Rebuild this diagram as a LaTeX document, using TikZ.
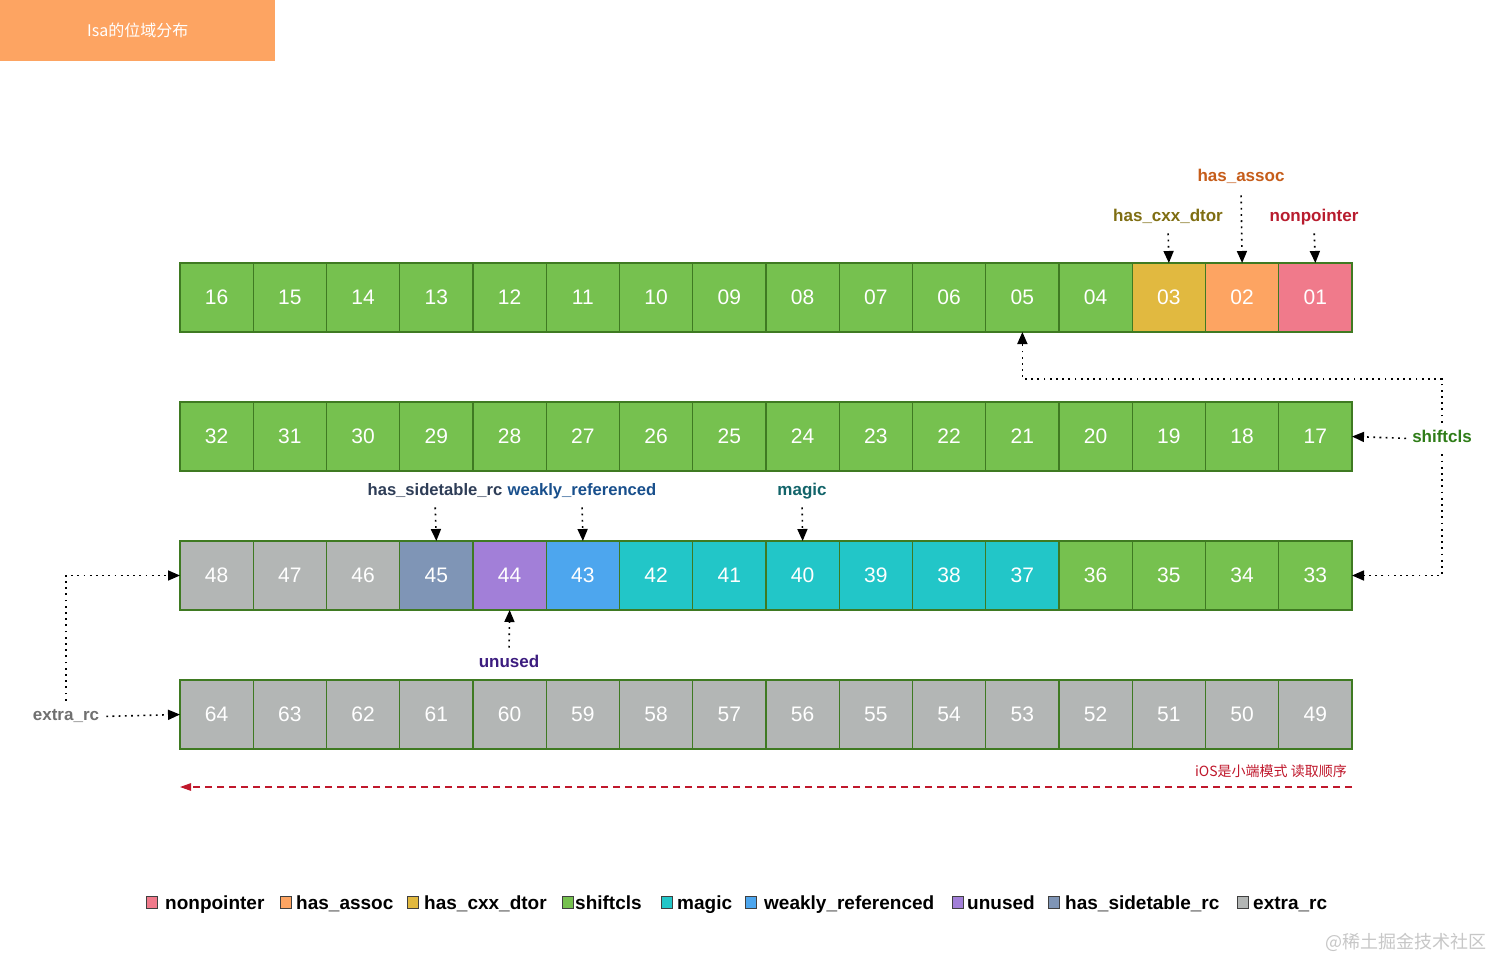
\documentclass[tikz,border=0pt]{standalone}
\usepackage{fontspec}
\setmainfont{Liberation Sans}
\newfontfamily\cjk{Noto Sans CJK SC}
\usetikzlibrary{arrows.meta}
\definecolor{cgreen}{HTML}{76C14F}
\definecolor{cborder}{HTML}{3F7A22}
\definecolor{cpink}{HTML}{F07A8B}
\definecolor{corange}{HTML}{FDA462}
\definecolor{cyellow}{HTML}{E1B940}
\definecolor{ccyan}{HTML}{22C6C8}
\definecolor{cblue}{HTML}{4DA6EE}
\definecolor{cpurple}{HTML}{A27FD8}
\definecolor{cbgray}{HTML}{7F95B6}
\definecolor{cgray}{HTML}{B3B6B5}
\definecolor{tassoc}{HTML}{C65D1A}
\definecolor{tcxx}{HTML}{7F6E12}
\definecolor{tnonp}{HTML}{B81C2E}
\definecolor{tshift}{HTML}{2F7D18}
\definecolor{tside}{HTML}{2E3D57}
\definecolor{tweak}{HTML}{184F8C}
\definecolor{tmagic}{HTML}{12646A}
\definecolor{tunused}{HTML}{3C1C7F}
\definecolor{textra}{HTML}{707070}
\definecolor{tred}{HTML}{C0182C}
\tikzset{
  cell/.style={draw=cborder, line width=1.3pt, minimum width=73.25pt, minimum height=69pt,
    inner sep=0pt, outer sep=0pt, text=white, font=\fontsize{21}{24}\selectfont},
  lbl/.style={font=\fontsize{17}{20}\selectfont\bfseries, inner sep=2pt, text height=12pt, text depth=3.5pt},
  dotarrow/.style={draw=black, line width=1.6pt, dash pattern=on 1.8pt off 4.4pt,
    -{Triangle[length=12pt,width=10pt]}, shorten <=6pt},
  legsq/.style={draw=black!75, line width=1pt, minimum width=11.5pt, minimum height=12pt, inner sep=0pt},
  legtx/.style={anchor=base west, inner sep=0pt, font=\fontsize{19}{22}\selectfont\bfseries}
}
\begin{document}
\begin{tikzpicture}[x=1pt,y=-1pt]
\useasboundingbox (0,0) rectangle (1512,979);
\fill[white] (0,0) rectangle (1512,979);
% title
\node[fill=corange, minimum width=275pt, minimum height=61pt, inner sep=0pt, anchor=north west,
  text=white, font=\cjk\fontsize{16}{18}\selectfont] (title) at (0,0) {Isa的位域分布};
% cells
\foreach \n in {1,...,64}{
  \pgfmathtruncatemacro\rowno{(\n-1)/16}
  \pgfmathtruncatemacro\colno{16*(\rowno+1)-\n}
  \pgfmathsetmacro\cx{180+73.25*(\colno+0.5)}
  \pgfmathsetmacro\cy{297.5+139*\rowno}
  \def\fc{cgreen}
  \ifnum\n=1 \def\fc{cpink}\fi
  \ifnum\n=2 \def\fc{corange}\fi
  \ifnum\n=3 \def\fc{cyellow}\fi
  \ifnum\n>36 \ifnum\n<43 \def\fc{ccyan}\fi\fi
  \ifnum\n=43 \def\fc{cblue}\fi
  \ifnum\n=44 \def\fc{cpurple}\fi
  \ifnum\n=45 \def\fc{cbgray}\fi
  \ifnum\n>45 \def\fc{cgray}\fi
  \node[cell, fill=\fc] (c\n) at (\cx,\cy) {\ifnum\n<10 0\fi\n};
}
% labels
\node[lbl, text=tassoc] (la2) at (1241,177.5) {has\_assoc};
\node[lbl, text=tcxx] (la3) at (1168,217.5) {has\_cxx\_dtor};
\node[lbl, text=tnonp] (la1) at (1314,217.5) {nonpointer};
\node[lbl, text=tshift] (lsh) at (1442,438.5) {shiftcls};
\node[lbl, text=tside, font=\fontsize{16.6}{20}\selectfont\bfseries] (lhs) at (435,491.5) {has\_sidetable\_rc};
\node[lbl, text=tweak, font=\fontsize{16.6}{20}\selectfont\bfseries] (lwr) at (582,491.5) {weakly\_referenced};
\node[lbl, text=tmagic] (lmg) at (802,491.5) {magic};
\node[lbl, text=tunused] (lun) at (509,663.5) {unused};
\node[lbl, text=textra] (lex) at (66,716.5) {extra\_rc};
% arrows
\draw[dotarrow, shorten <=8pt] (la2.south) -- (c2.north);
\draw[dotarrow] (la3.south) -- (c3.north);
\draw[dotarrow] (la1.south) -- (c1.north);
\draw[dotarrow] (lhs.south) -- (c45.north);
\draw[dotarrow] (lwr.south) -- (c43.north);
\draw[dotarrow] (lmg.south) -- (c40.north);
\draw[dotarrow] (lun.north) -- (c44.south);
\draw[dotarrow, shorten <=4pt] (lsh.west) -- (c17.east);
\coordinate (shtop) at (1442,379);
\draw[dotarrow] (lsh.north) -- (shtop) -| (c5.south);
\draw[dotarrow] (lsh.south) |- (c33.east);
\draw[dotarrow, shorten <=5pt] (lex.east) -- (c64.west);
\draw[dotarrow] (lex.north) |- (c48.west);
% reading order
\coordinate (rdstart) at (1352,787);
\coordinate (rdend) at (180,787);
\draw[draw=tred, line width=1.2pt, dash pattern=on 7pt off 5pt,
  -{Triangle[length=11pt,width=7.5pt]}] (rdstart) -- (rdend);
\node[anchor=east, inner sep=0pt, text=tred, font=\cjk\fontsize{14}{16}\selectfont] (rdtxt) at (1347,771) {iOS是小端模式 读取顺序};
% legend
\foreach \name/\sx/\tx/\col [count=\k] in {nonpointer/152/165/cpink, has\_assoc/286/296/corange,
  has\_cxx\_dtor/413/424/cyellow, shiftcls/568/575/cgreen, magic/667/677/ccyan,
  weakly\_referenced/751/764/cblue, unused/958/967/cpurple, has\_sidetable\_rc/1054/1065/cbgray,
  extra\_rc/1243/1253/cgray}{
  \node[legsq, fill=\col] (lg\k) at (\sx,902.5) {};
  \node[legtx] (lt\k) at (\tx,909) {\name};
}
% watermark
\node[anchor=east, inner sep=0pt, text=black!22, font=\cjk\fontsize{18}{20}\selectfont] (wm) at (1487,942) {@稀土掘金技术社区};
\end{tikzpicture}
\end{document}
